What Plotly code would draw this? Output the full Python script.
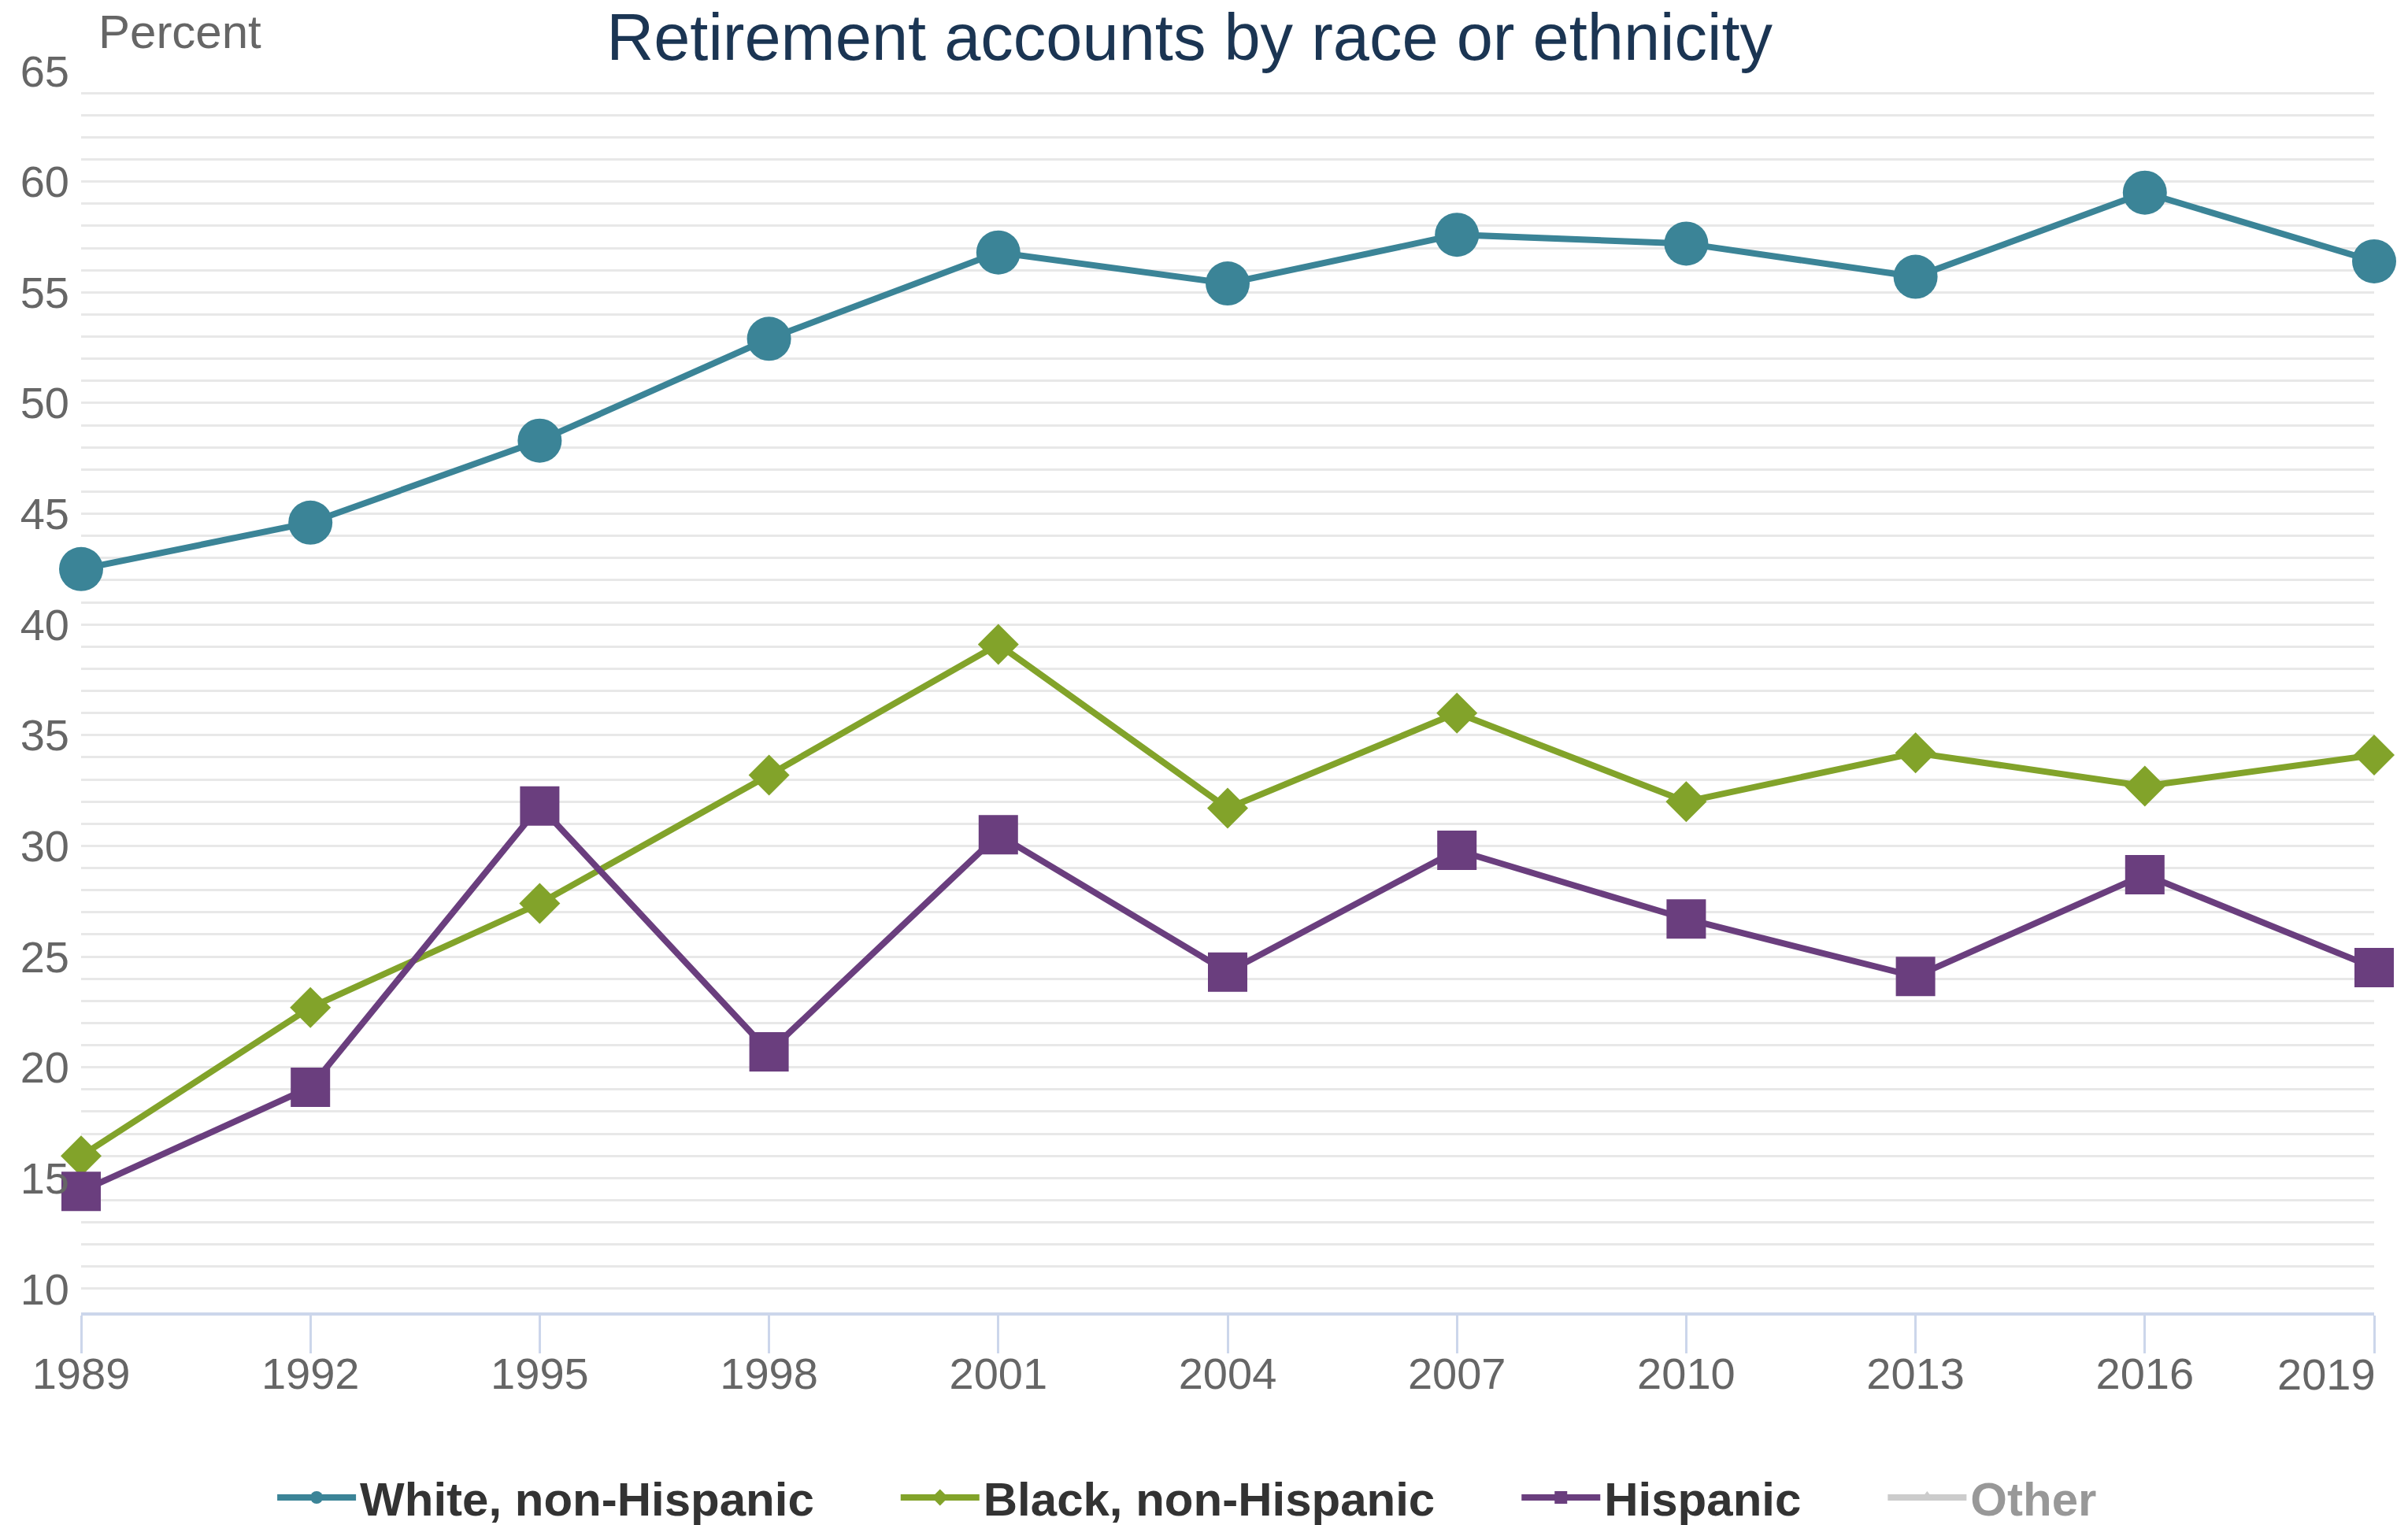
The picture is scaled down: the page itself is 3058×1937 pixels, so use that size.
import plotly.graph_objects as go

# Survey years
years = [1989, 1992, 1995, 1998, 2001, 2004, 2007, 2010, 2013, 2016, 2019]

# Share of families with retirement accounts, percent
white_non_hispanic = [42.5, 44.6, 48.3, 52.9, 56.8, 55.4, 57.6, 57.2, 55.7, 59.5, 56.4]
black_non_hispanic = [16.0, 22.7, 27.4, 33.2, 39.1, 31.7, 36.0, 32.0, 34.2, 32.7, 34.1]
hispanic = [14.4, 19.1, 31.8, 20.7, 30.5, 24.3, 29.8, 26.7, 24.1, 28.7, 24.5]
other = [None] * len(years)  # series is toggled off in the legend

y_labels = [10, 15, 20, 25, 30, 35, 40, 45, 50, 55, 60, 65]
grid_values = list(range(10, 65))

FONT = "Liberation Sans, Arial, Helvetica, sans-serif"
Y_RANGE = [8.93, 65]
PAD = "\u00a0" * 6  # trailing space between legend entries

fig = go.Figure()

fig.add_trace(go.Scatter(
    x=years, y=white_non_hispanic, name="White, non-Hispanic" + PAD,
    mode="lines+markers", cliponaxis=False,
    line=dict(color="#3b8497", width=8),
    marker=dict(symbol="circle", size=56, color="#3b8497"),
))
fig.add_trace(go.Scatter(
    x=years, y=black_non_hispanic, name="Black, non-Hispanic" + PAD,
    mode="lines+markers", cliponaxis=False,
    line=dict(color="#82a32a", width=8),
    marker=dict(symbol="diamond", size=40, color="#82a32a"),
))
fig.add_trace(go.Scatter(
    x=years, y=hispanic, name="Hispanic" + PAD,
    mode="lines+markers", cliponaxis=False,
    line=dict(color="#6a3e7e", width=8),
    marker=dict(symbol="square", size=50, color="#6a3e7e"),
))
fig.add_trace(go.Scatter(
    x=years, y=other, name="Other", yaxis="y2",
    mode="lines+markers", visible="legendonly",
    line=dict(color="#999999", width=8),
    marker=dict(symbol="triangle-up", size=40, color="#999999"),
))

fig.update_layout(
    width=3058, height=1937,
    margin=dict(l=103, r=43, t=90, b=270),
    paper_bgcolor="white", plot_bgcolor="white",
    font=dict(family=FONT, color="#666666", size=55),
    title=dict(
        text="Retirement accounts by race or ethnicity",
        x=0.494, xref="container", xanchor="center",
        y=1 - 47 / 1937, yref="container", yanchor="middle",
        font=dict(family=FONT, size=83, color="#1b3553"),
    ),
    xaxis=dict(
        range=[1989, 2019],
        tickvals=years,
        ticktext=[str(y) for y in years[:-1]] + [""],
        showgrid=False, zeroline=False,
        showline=True, linecolor="#ccd6eb", linewidth=4,
        ticks="outside", ticklen=48, tickwidth=3, tickcolor="#ccd6eb",
        ticklabelstandoff=-22,
        tickfont=dict(size=56, color="#666666"),
    ),
    yaxis=dict(
        range=Y_RANGE,
        tickvals=y_labels,
        showgrid=False, zeroline=False, showline=False,
        ticks="", ticklabelstandoff=14,
        tickfont=dict(size=56, color="#666666"),
    ),
    yaxis2=dict(
        range=Y_RANGE, overlaying="y", side="left",
        tickvals=grid_values, showticklabels=False,
        showgrid=True, gridcolor="#e8e8e8", gridwidth=3,
        zeroline=False, showline=False, ticks="",
    ),
    legend=dict(
        orientation="h",
        x=0.493, xref="container", xanchor="center",
        y=1 - 1902 / 1937, yref="container", yanchor="middle",
        font=dict(family=FONT, size=60, color="#333333", weight="bold"),
        itemwidth=100,
        bgcolor="rgba(0,0,0,0)",
    ),
    annotations=[
        dict(
            text="Percent", xref="paper", x=0, xanchor="left", xshift=20,
            yref="paper", y=1, yanchor="middle", yshift=50,
            showarrow=False, font=dict(family=FONT, size=60, color="#666666"),
        ),
        dict(
            text=str(years[-1]), xref="x", x=years[-1], xanchor="right", xshift=4,
            yref="paper", y=0, yanchor="middle", yshift=-78,
            showarrow=False, font=dict(family=FONT, size=56, color="#666666"),
        ),
    ],
)

fig.write_html("out.html")
